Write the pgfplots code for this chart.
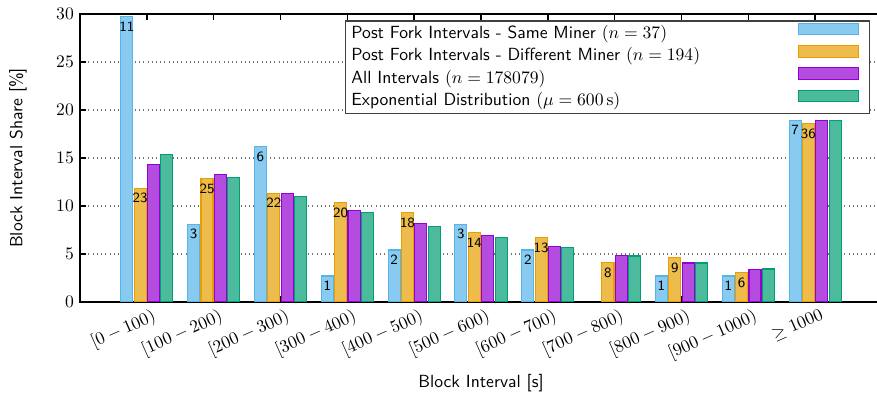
\documentclass[border=0pt]{standalone}
\usepackage{pgfplots}
\pgfplotsset{compat=1.18}
\definecolor{cBlue}{HTML}{56B4E9}
\definecolor{cOrange}{HTML}{E69F00}
\definecolor{cPurple}{HTML}{9400D3}
\definecolor{cGreen}{HTML}{009E73}
\begin{document}
\begin{tikzpicture}
\begin{axis}[
  scale only axis, width=455.7pt, height=163.6pt,
  xmin=-1, xmax=11, ymin=0, ymax=30,
  ybar, bar width=0.18,
  xtick={0,1,2,3,4,5,6,7,8,9,10},
  xticklabels={{$[0-100)$},{$[100-200)$},{$[200-300)$},{$[300-400)$},{$[400-500)$},{$[500-600)$},{$[600-700)$},{$[700-800)$},{$[800-900)$},{$[900-1000)$},{$\geq 1000$}},
  ytick={0,5,10,15,20,25,30},
  ymajorgrids, grid style={dotted, line width=0.7pt, black!55},
  ytick pos=left, xtick pos=both,
  tick align=inside, major tick length=3.4pt,
  every tick/.style={black, line width=0.9pt},
  axis line style={line width=1.1pt},
  xticklabel style={rotate=24, anchor=north east, inner sep=1pt, yshift=-3pt, xshift=2pt},
  ylabel={\sffamily Block Interval Share [\%]},
  xlabel={\sffamily Block Interval [s]},
  ylabel style={at={(rel axis cs:-0.0773,0.5)}, anchor=center},
  xlabel style={at={(rel axis cs:0.5,-0.281)}, anchor=center},
  legend style={at={(rel axis cs:0.985,0.978)}, anchor=north east, draw=black!75, line width=0.75pt, fill=white, font=\sffamily, inner sep=1pt,
    nodes={inner ysep=1.15pt, inner xsep=2.5pt, text height=7.5pt, text depth=2.5pt}},
  legend cell align=left, legend plot pos=right,
  legend image code/.code={\path (0pt,0pt) (92pt,0pt); \draw[#1] (53pt,-0.4pt) rectangle (87pt,6.2pt);},
  every node near coord/.append style={anchor=north, inner sep=0pt, yshift=-2.7pt, font=\sffamily\footnotesize, black},
]
\addplot[fill=cBlue!70!white, draw=cBlue, line width=0.6pt, bar shift=-0.3, point meta=explicit symbolic, nodes near coords={\sffamily\footnotesize\pgfplotspointmeta}]
  coordinates {(0,29.73) [11] (1,8.11) [3] (2,16.22) [6] (3,2.70) [1] (4,5.41) [2] (5,8.11) [3] (6,5.41) [2] (8,2.70) [1] (9,2.70) [1] (10,18.92) [7]};
\addlegendentry{Post Fork Intervals - Same Miner $(n = 37)$}
\addplot[fill=cOrange!70!white, draw=cOrange, line width=0.6pt, bar shift=-0.1, point meta=explicit symbolic, nodes near coords={\sffamily\footnotesize\pgfplotspointmeta}]
  coordinates {(0,11.86) [23] (1,12.89) [25] (2,11.34) [22] (3,10.31) [20] (4,9.28) [18] (5,7.22) [14] (6,6.70) [13] (7,4.12) [8] (8,4.64) [9] (9,3.09) [6] (10,18.56) [36]};
\addlegendentry{Post Fork Intervals - Different Miner $(n = 194)$}
\addplot[fill=cPurple!70!white, draw=cPurple, line width=0.6pt, bar shift=0.1]
  coordinates {(0,14.34) (1,13.31) (2,11.30) (3,9.50) (4,8.12) (5,6.89) (6,5.81) (7,4.81) (8,4.05) (9,3.36) (10,18.89)};
\addlegendentry{All Intervals $(n = 178079)$}
\addplot[fill=cGreen!70!white, draw=cGreen, line width=0.6pt, bar shift=0.3]
  coordinates {(0,15.35) (1,12.99) (2,11.00) (3,9.31) (4,7.88) (5,6.67) (6,5.65) (7,4.78) (8,4.05) (9,3.43) (10,18.89)};
\addlegendentry{Exponential Distribution $(\mu = 600\,\mathrm{s})$}
\coordinate (bbll) at (rel axis cs:-0.0998,-0.3438);
\coordinate (bbur) at (rel axis cs:0.9938,1.0486);
\end{axis}
\pgfresetboundingbox
\path[use as bounding box] (bbll) rectangle (bbur);
\end{tikzpicture}
\end{document}
